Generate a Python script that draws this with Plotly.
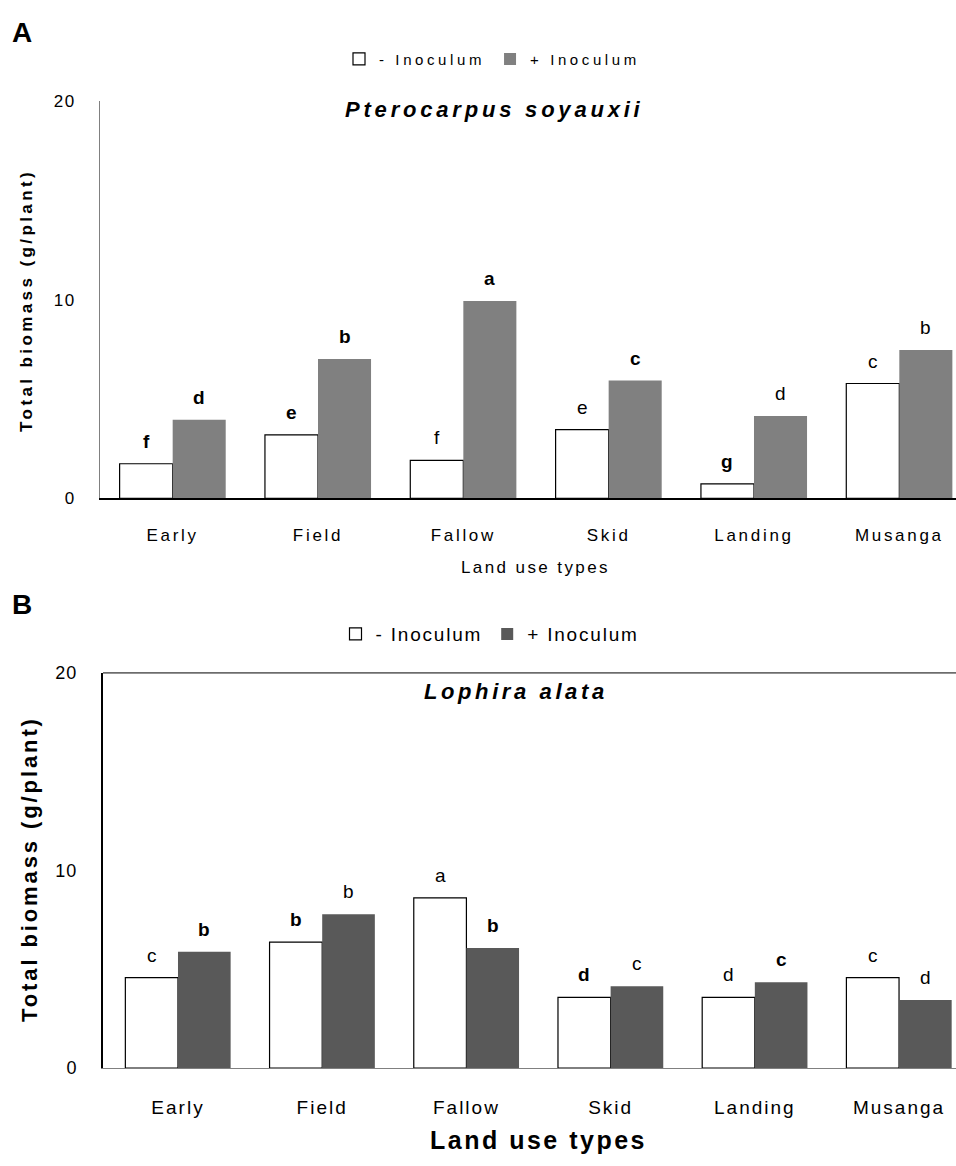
import plotly.graph_objects as go

categories = ["Early", "Field", "Fallow", "Skid", "Landing", "Musanga"]
y_ticks = [0, 10, 20]

# Panel A: Pterocarpus soyauxii
a_minus = [1.75, 3.2, 1.92, 3.47, 0.74, 5.79]
a_plus = [3.96, 7.03, 9.95, 5.94, 4.16, 7.48]
a_minus_letters = ["f", "e", "f", "e", "g", "c"]
a_plus_letters = ["d", "b", "a", "c", "d", "b"]

# Panel B: Lophira alata
b_minus = [4.58, 6.37, 8.61, 3.58, 3.58, 4.58]
b_plus = [5.88, 7.78, 6.07, 4.14, 4.34, 3.45]
b_minus_letters = ["c", "b", "a", "d", "d", "c"]
b_plus_letters = ["b", "b", "b", "c", "c", "d"]

# style-only flags for letter weight
a_minus_bold = [True, True, False, False, True, False]
a_plus_bold = [True, True, True, True, False, False]
b_minus_bold = [False, True, False, True, False, False]
b_plus_bold = [True, False, True, False, True, False]

FONT = "Liberation Sans, Arial, sans-serif"
W, H = 956, 1166
BW = 0.365


def sp(text, ls):
    return f'<span style="letter-spacing:{ls}px">{text}</span>'


def px_y(p):
    return 1 - p / H


fig = go.Figure()
xs = list(range(len(categories)))


def add_panel(minus, plus, plus_color, xa, ya, legend, ls):
    fig.add_trace(go.Bar(x=xs, y=minus, name=sp("- Inoculum", ls), width=BW, offset=-BW,
                         marker=dict(color="white", line=dict(color="black", width=1.2)),
                         xaxis=xa, yaxis=ya, legend=legend))
    fig.add_trace(go.Bar(x=xs, y=plus, name=sp("+ Inoculum", ls), width=BW, offset=0,
                         marker=dict(color=plus_color, line=dict(width=0)),
                         xaxis=xa, yaxis=ya, legend=legend))


add_panel(a_minus, a_plus, "#808080", "x", "y", "legend", 3.6)
add_panel(b_minus, b_plus, "#595959", "x2", "y2", "legend2", 1.8)

annotations = []


def add_letters(vals, letters, bold, xref, yref, side):
    for i, (v, l, b) in enumerate(zip(vals, letters, bold)):
        annotations.append(dict(x=i + side * BW / 2, y=v, xref=xref, yref=yref,
                                text=f"<b>{l}</b>" if b else l, showarrow=False,
                                yanchor="bottom", yshift=10,
                                font=dict(family=FONT, size=19, color="black")))


add_letters(a_minus, a_minus_letters, a_minus_bold, "x", "y", -1)
add_letters(a_plus, a_plus_letters, a_plus_bold, "x", "y", 1)
add_letters(b_minus, b_minus_letters, b_minus_bold, "x2", "y2", -1)
add_letters(b_plus, b_plus_letters, b_plus_bold, "x2", "y2", 1)


def text_ann(text, x, y, size, angle=0, xanchor="center"):
    annotations.append(dict(text=text, x=x / W, y=px_y(y), xref="paper", yref="paper",
                            showarrow=False, textangle=angle, xanchor=xanchor, yanchor="middle",
                            font=dict(family=FONT, size=size, color="black")))


text_ann("<b>A</b>", 10, 23, 28, xanchor="left")
text_ann("<b>B</b>", 10, 605, 28, xanchor="left")
text_ann(sp("<b><i>Pterocarpus soyauxii</i></b>", 3.8), 494, 101, 22)
text_ann(sp("<b><i>Lophira alata</i></b>", 3.6), 516, 693, 22)
text_ann(sp("<b>Total biomass (g/plant)</b>", 3.4), 27, 296, 17, angle=-90)
text_ann(sp("<b>Total biomass (g/plant)</b>", 2.9), 29, 874, 22, angle=-90)
text_ann(sp("Land use types", 2.4), 535, 567, 17)
text_ann(sp("<b>Land use types</b>", 2.5), 538, 1150, 25)

fig.add_shape(type="line", xref="x2 domain", yref="y2 domain", x0=0, x1=1, y0=1, y1=1,
              line=dict(color="black", width=1))

common_y = dict(range=[0, 20], tickvals=y_ticks, showgrid=False, zeroline=False,
                ticks="", showline=True, fixedrange=True)

fig.update_layout(
    width=W, height=H,
    margin=dict(l=0, r=0, t=0, b=0),
    paper_bgcolor="white", plot_bgcolor="white",
    font=dict(family=FONT, color="black"),
    barmode="overlay",
    xaxis=dict(domain=[100 / W, 1], range=[-0.5, 5.39], anchor="y",
               tickvals=xs, ticktext=[sp(c, 2.7) for c in categories],
               showgrid=False, zeroline=False, ticks="", showline=True, fixedrange=True,
               linecolor="black", linewidth=2, ticklabelstandoff=20,
               tickfont=dict(size=17, family=FONT)),
    yaxis=dict(common_y, domain=[px_y(497), px_y(93)], anchor="x",
               ticktext=[sp(str(t), 1.5) for t in y_ticks],
               linecolor="#808080", linewidth=1, ticklabelstandoff=20,
               tickfont=dict(size=17, family=FONT)),
    xaxis2=dict(domain=[103 / W, 1], range=[-0.52, 5.395], anchor="y2",
                tickvals=xs, ticktext=[sp(c, 2) for c in categories],
                showgrid=False, zeroline=False, ticks="", showline=True, fixedrange=True,
                linecolor="#808080", linewidth=1, ticklabelstandoff=22,
                tickfont=dict(size=19, family=FONT)),
    yaxis2=dict(common_y, domain=[px_y(1076.5), px_y(674.5)], anchor="x2",
                ticktext=[sp(str(t), 1) for t in y_ticks],
                linecolor="black", linewidth=2, ticklabelstandoff=20,
                tickfont=dict(size=18, family=FONT)),
    legend=dict(orientation="h", x=492 / W, xanchor="center", y=px_y(50), yanchor="middle",
                font=dict(size=15, family=FONT), bgcolor="rgba(0,0,0,0)"),
    legend2=dict(orientation="h", x=490 / W, xanchor="center", y=px_y(635), yanchor="middle",
                 font=dict(size=19, family=FONT), bgcolor="rgba(0,0,0,0)"),
    annotations=annotations,
    showlegend=True,
)

fig.write_html("out.html", post_script="document.body.style.margin='0px';",
               config={"displayModeBar": False})
